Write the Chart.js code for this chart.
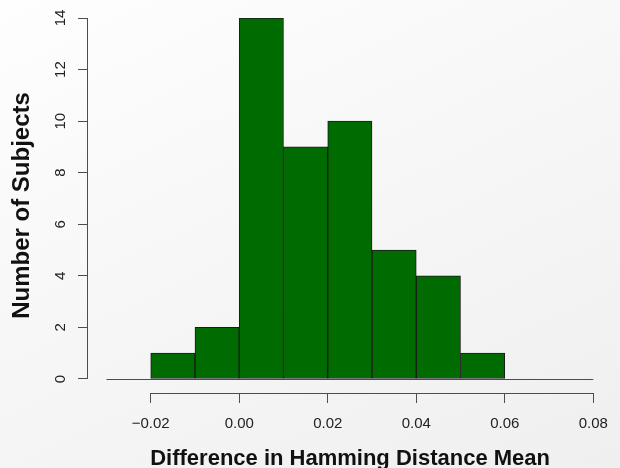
<!DOCTYPE html>
<html>
<head>
<meta charset="utf-8">
<script src="https://cdn.jsdelivr.net/npm/chart.js@4"></script>
<style>
  html, body { margin:0; padding:0; }
  body { width:620px; height:468px; background: linear-gradient(155deg, #fefefe 0%, #f7f7f7 45%, #efefef 100%); }
  #wrap { width:620px; height:468px; }
</style>
</head>
<body>
<div id="wrap"><canvas id="hist"></canvas></div>
<script>
// histogram bins (width 0.01) and counts
const binEdges = [-0.02, -0.01, 0.00, 0.01, 0.02, 0.03, 0.04, 0.05, 0.06];
const counts   = [1, 2, 14, 9, 10, 5, 4, 1];
const xTicks   = [-0.02, 0.00, 0.02, 0.04, 0.06, 0.08];
const yTicks   = [0, 2, 4, 6, 8, 10, 12, 14];
const baseLine = [-0.03, 0.08];

const axisColor = '#4d4d4d';
const textColor = '#222';
const family = '"Liberation Sans", Arial, Helvetica, sans-serif';

function fmtX(v){ return (v < 0 ? '\u2212' : '') + Math.abs(v).toFixed(2); }

const bars = counts.map((c, i) => ({ x: (binEdges[i] + binEdges[i+1]) / 2, y: c }));

// R style axes: lines only from first to last tick, plus the y=0 base line
const rAxes = {
  id: 'rAxes',
  afterDatasetsDraw(chart){
    const {ctx, scales:{x, y}} = chart;
    ctx.save();
    ctx.strokeStyle = axisColor;
    ctx.lineWidth = 1;
    ctx.beginPath();
    const yx = Math.round(y.right) + 0.5;
    ctx.moveTo(yx, y.getPixelForValue(yTicks[0]));
    ctx.lineTo(yx, y.getPixelForValue(yTicks[yTicks.length-1]));
    const xy = Math.round(x.top) + 0.5;
    ctx.moveTo(x.getPixelForValue(xTicks[0]), xy);
    ctx.lineTo(x.getPixelForValue(xTicks[xTicks.length-1]), xy);
    const by = Math.round(y.getPixelForValue(0)) + 0.5;
    ctx.moveTo(x.getPixelForValue(baseLine[0]), by);
    ctx.lineTo(x.getPixelForValue(baseLine[1]), by);
    ctx.stroke();
    ctx.restore();
  }
};

new Chart(document.getElementById('hist'), {
  type: 'bar',
  data: {
    datasets: [{
      data: bars,
      backgroundColor: '#006b00',
      borderColor: '#1a1a1a',
      borderWidth: 1,
      borderSkipped: false,
      barPercentage: 1,
      categoryPercentage: 1
    }]
  },
  options: {
    responsive: true,
    maintainAspectRatio: false,
    animation: false,
    layout: { padding: { top: 18, right: 4, left: 0, bottom: 0 } },
    plugins: { legend: { display: false }, tooltip: { enabled: false } },
    scales: {
      x: {
        type: 'linear',
        min: -0.0344, max: 0.0845,
        offset: false,
        afterBuildTicks: s => { s.ticks = xTicks.map(v => ({ value: v })); },
        afterFit: s => { s.height = 75; },
        border: { display: false },
        grid: { drawOnChartArea: false, offset: false, tickLength: 10, color: axisColor },
        ticks: { color: textColor, font: { family, size: 15 }, padding: 12, maxRotation: 0, callback: v => fmtX(v) },
        title: { display: true, text: 'Difference in Hamming Distance Mean', color: '#111',
                 font: { family, size: 22, weight: 'bold', lineHeight: 0.85 }, padding: { top: 0, bottom: 0 } }
      },
      y: {
        type: 'linear',
        min: -0.544, max: 14,
        afterBuildTicks: s => { s.ticks = yTicks.map(v => ({ value: v })); },
        afterFit: s => { s.width = 87; },
        border: { display: false },
        grid: { drawOnChartArea: false, tickLength: 9, color: axisColor },
        ticks: { color: textColor, font: { family, size: 15 }, padding: 9, minRotation: 90, maxRotation: 90, crossAlign: 'center' },
        title: { display: true, text: 'Number of Subjects', color: '#111',
                 font: { family, size: 24, weight: 'bold', lineHeight: 1 }, padding: { top: 10, bottom: 0 } }
      }
    }
  },
  plugins: [rAxes]
});
</script>
</body>
</html>
